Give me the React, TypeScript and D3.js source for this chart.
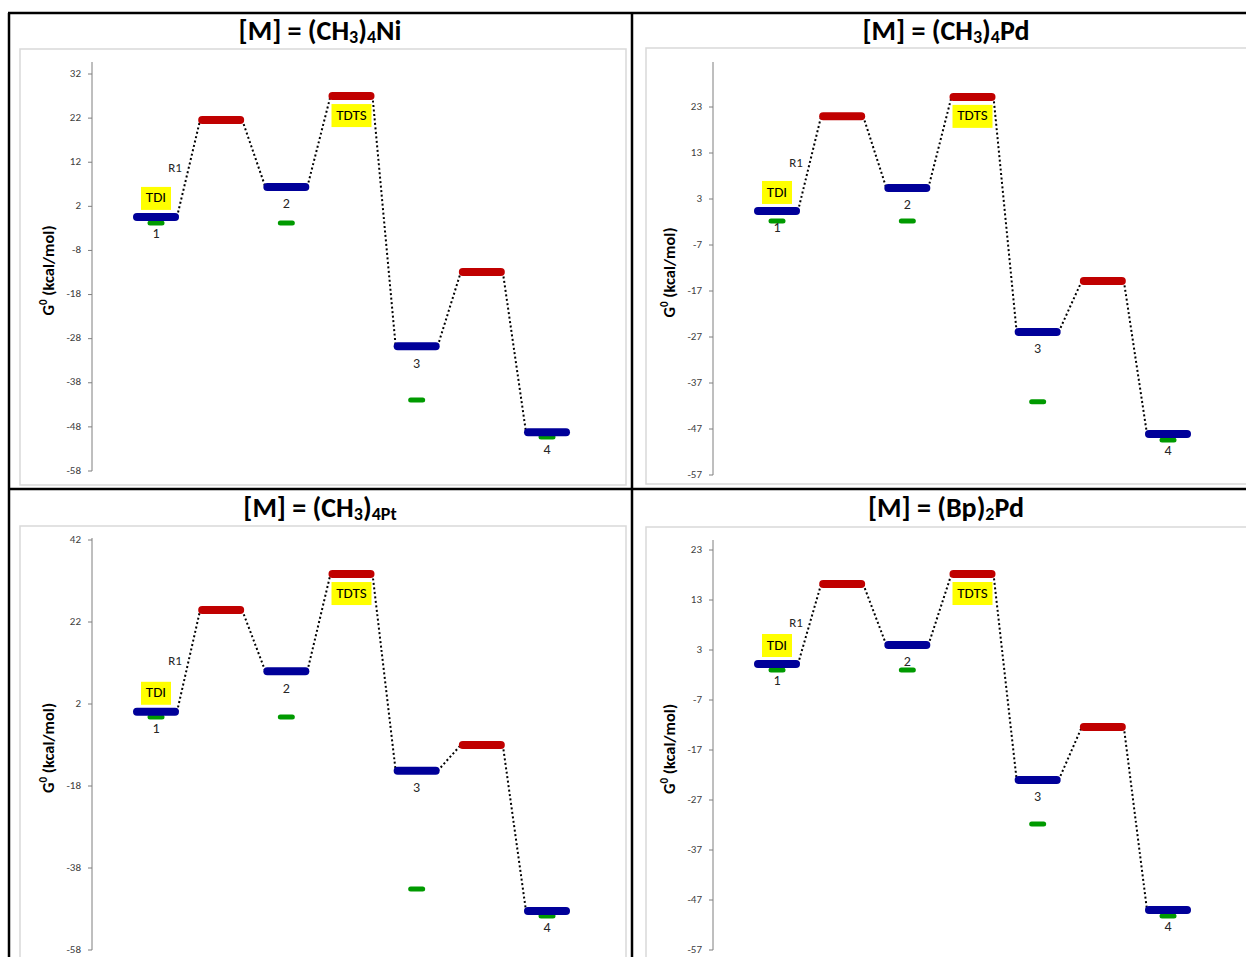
import React from 'react';
import * as d3 from 'd3';

// stage order along the reaction coordinate
const stages = ['1', 'TS1', '2', 'TS2', '3', 'TS3', '4'];
const minima = ['1', '2', '3', '4'];

// G0 (kcal/mol)
const niLevels = [-0.4, 21.6, 6.4, 27.0, -29.7, -12.9, -49.2];
const niGreen = [-1.8, -1.8, -41.9, -50.3];
const niTicks = [32, 22, 12, 2, -8, -18, -28, -38, -48, -58];

const pdLevels = [0.4, 21.0, 5.4, 25.2, -25.9, -14.8, -48.1];
const pdGreen = [-1.8, -1.8, -41.1, -49.4];
const pdTicks = [23, 13, 3, -7, -17, -27, -37, -47, -57];

const ptLevels = [0.1, 24.9, 10.0, 33.7, -14.3, -8.0, -48.5];
const ptGreen = [-1.2, -1.2, -43.1, -49.7];
const ptTicks = [42, 22, 2, -18, -38, -58];

const bpLevels = [0.2, 16.2, 4.0, 18.2, -23.0, -12.4, -49.0];
const bpGreen = [-1.0, -1.0, -31.8, -50.2];
const bpTicks = [23, 13, 3, -7, -17, -27, -37, -47, -57];

const FONT = "Carlito, Calibri, 'Open Sans', 'Noto Sans', sans-serif";
const BLUE = '#000099';
const RED = '#c00000';
const GREEN = '#009a00';

type Title = { parts: { t: string; sub?: boolean }[] };

interface PanelCfg {
  title: Title;
  levels: number[];
  green: number[];
  ticks: number[];
  left: number; // panel frame left
  top: number; // panel frame top
  axisX: number;
  axisTop: number;
  yRange: [number, number]; // pixel for [min tick, max tick]
  r1Dy: number;
  titleY: number;
}

const panels: PanelCfg[] = [
  {
    title: { parts: [{ t: '[M] = (CH' }, { t: '3', sub: true }, { t: ')' }, { t: '4', sub: true }, { t: 'Ni' }] },
    levels: niLevels, green: niGreen, ticks: niTicks,
    left: 20, top: 49, axisX: 92, axisTop: 62, yRange: [471, 74], r1Dy: -48, titleY: 33,
  },
  {
    title: { parts: [{ t: '[M] = (CH' }, { t: '3', sub: true }, { t: ')' }, { t: '4', sub: true }, { t: 'Pd' }] },
    levels: pdLevels, green: pdGreen, ticks: pdTicks,
    left: 646, top: 48, axisX: 713, axisTop: 62, yRange: [475, 107], r1Dy: -47, titleY: 33,
  },
  {
    title: { parts: [{ t: '[M] = (CH' }, { t: '3', sub: true }, { t: ')' }, { t: '4Pt', sub: true }] },
    levels: ptLevels, green: ptGreen, ticks: ptTicks,
    left: 20, top: 526, axisX: 92, axisTop: 538, yRange: [950, 540], r1Dy: -50, titleY: 510,
  },
  {
    title: { parts: [{ t: '[M] = (Bp)' }, { t: '2', sub: true }, { t: 'Pd' }] },
    levels: bpLevels, green: bpGreen, ticks: bpTicks,
    left: 646, top: 527, axisX: 713, axisTop: 540, yRange: [950, 550], r1Dy: -40, titleY: 510,
  },
];

const Panel: React.FC<{ cfg: PanelCfg }> = ({ cfg }) => {
  const tMin = d3.min(cfg.ticks)!;
  const tMax = d3.max(cfg.ticks)!;
  const y = d3.scaleLinear().domain([tMin, tMax]).range(cfg.yRange);
  const x = d3.scalePoint<string>().domain(stages).range([cfg.axisX + 64, cfg.axisX + 455]);
  const half = 19;
  const frameW = 606;
  const frameH = cfg.top < 400 ? 436 : 440;

  const pts = stages.map((s, i) => ({ s, v: cfg.levels[i], cx: x(s)! }));
  const connectors = d3.pairs(pts);
  const line = d3.line<[number, number]>();

  const tdi = pts[0];
  const tdts = pts[3];
  const centerX = cfg.left + 300;

  return (
    <g>
      <text x={centerX} y={cfg.titleY} textAnchor="middle" dominantBaseline="middle"
        fontFamily={FONT} fontWeight="bold" fontSize={28} fill="#000">
        {cfg.title.parts.map((p, i) =>
          p.sub ? (
            <tspan key={i} fontSize={18} dy={6}>{p.t}</tspan>
          ) : (
            <tspan key={i} dy={i > 0 && cfg.title.parts[i - 1].sub ? -6 : 0}>{p.t}</tspan>
          )
        )}
      </text>
      <rect x={cfg.left} y={cfg.top} width={frameW} height={frameH} fill="#fff" stroke="#d9d9d9" strokeWidth={1.5} />

      {/* y axis */}
      <line x1={cfg.axisX} x2={cfg.axisX} y1={cfg.axisTop} y2={y(tMin)} stroke="#7f7f7f" strokeWidth={1} />
      {cfg.ticks.map(t => (
        <g key={t}>
          <line x1={cfg.axisX - 4} x2={cfg.axisX} y1={y(t)} y2={y(t)} stroke="#7f7f7f" strokeWidth={1} />
          <text x={cfg.axisX - 11} y={y(t)} textAnchor="end" dominantBaseline="middle"
            fontFamily={FONT} fontSize={11} fill="#404040">{t}</text>
        </g>
      ))}
      <text transform={`translate(${cfg.axisX - 42},${(cfg.axisTop + y(tMin)) / 2 + 4}) rotate(-90)`}
        textAnchor="middle" dominantBaseline="middle" fontFamily={FONT} fontWeight="bold" fontSize={16.5} fill="#000">
        G<tspan fontSize={11} dy={-6}>0</tspan><tspan dy={6}> (kcal/mol)</tspan>
      </text>

      {/* dotted connectors */}
      {connectors.map(([a, b], i) => (
        <path key={i} d={line([[a.cx + half + 2, y(a.v)], [b.cx - half - 2, y(b.v)]])!}
          stroke="#000" strokeWidth={2} strokeDasharray="2,2.5" fill="none" />
      ))}

      {/* green markers */}
      {minima.map((m, i) => (
        <line key={m} x1={x(m)! - 6} x2={x(m)! + 6} y1={y(cfg.green[i])} y2={y(cfg.green[i])}
          stroke={GREEN} strokeWidth={5} strokeLinecap="round" />
      ))}

      {/* energy levels */}
      {pts.map((p, i) => (
        <line key={p.s} x1={p.cx - half} x2={p.cx + half} y1={y(p.v)} y2={y(p.v)}
          stroke={i % 2 === 0 ? BLUE : RED} strokeWidth={8} strokeLinecap="round" />
      ))}

      {/* minima labels */}
      {pts.filter((_, i) => i % 2 === 0).map(p => (
        <text key={p.s} x={p.cx} y={y(p.v) + 18} textAnchor="middle" dominantBaseline="middle"
          fontFamily={FONT} fontSize={14} fill="#262626">{p.s}</text>
      ))}

      <text x={tdi.cx + 19} y={y(tdi.v) + cfg.r1Dy} textAnchor="middle" dominantBaseline="middle"
        fontFamily={FONT} fontSize={13} fill="#262626">R1</text>

      <rect x={tdi.cx - 15} y={y(tdi.v) - 30} width={30} height={23} fill="#ffff00" />
      <text x={tdi.cx} y={y(tdi.v) - 18} textAnchor="middle" dominantBaseline="middle"
        fontFamily={FONT} fontSize={15} fill="#000">TDI</text>

      <rect x={tdts.cx - 20} y={y(tdts.v) + 8} width={40} height={23} fill="#ffff00" />
      <text x={tdts.cx} y={y(tdts.v) + 20} textAnchor="middle" dominantBaseline="middle"
        fontFamily={FONT} fontSize={15} fill="#000">TDTS</text>
    </g>
  );
};

export default function App() {
  return (
    <svg width={1246} height={957} style={{ position: 'absolute', left: 0, top: 0, background: '#fff' }}>
      <rect width={1246} height={957} fill="#fff" />
      {panels.map((p, i) => <Panel key={i} cfg={p} />)}
      {/* outer grid lines */}
      <line x1={8} x2={1246} y1={13} y2={13} stroke="#000" strokeWidth={2.5} />
      <line x1={9} x2={9} y1={13} y2={957} stroke="#000" strokeWidth={2.5} />
      <line x1={632} x2={632} y1={13} y2={957} stroke="#000" strokeWidth={2.5} />
      <line x1={8} x2={1246} y1={489} y2={489} stroke="#000" strokeWidth={2.5} />
    </svg>
  );
}
